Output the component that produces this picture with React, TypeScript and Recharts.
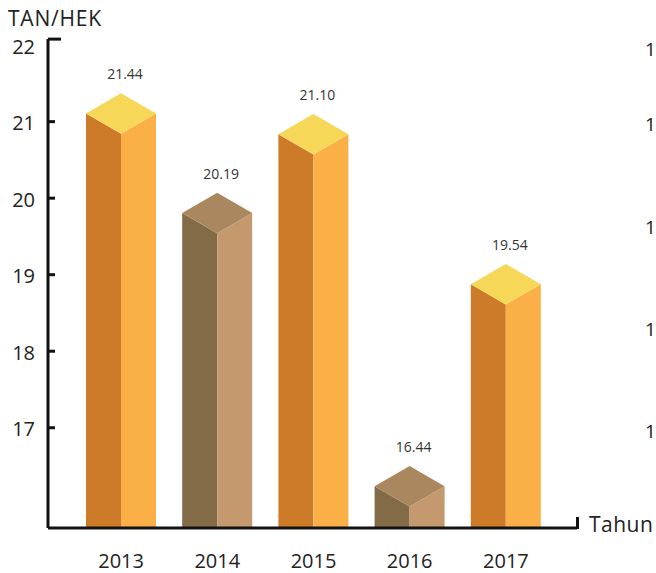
import { Bar, BarChart, LabelList, XAxis, YAxis } from 'recharts';

const years = ['2013', '2014', '2015', '2016', '2017'];
// value printed above each box
const yieldLabels = [21.44, 20.19, 21.1, 16.44, 19.54];
// height of each box as drawn in the picture (top corner of the lid)
const boxTops = [21.37, 20.07, 21.1, 16.5, 19.14];
const yTicks = [17, 18, 19, 20, 21, 22];
const rightMarks = [50, 125, 228, 330, 432];

const data = years.map((year, i) => ({
  year,
  top: boxTops[i],
  label: yieldLabels[i],
}));

const FONT = '"Open Sans", sans-serif';
const orange = { left: '#CD7A29', right: '#FAAF47', lid: '#F6D757' };
const brown = { left: '#846B48', right: '#C4996D', lid: '#AB8760' };

const Box3D = (props: any) => {
  const { x, y, width, height, payload } = props;
  const c = payload.year === '2014' || payload.year === '2016' ? brown : orange;
  const cx = x + width / 2;
  const d = (width / 2) * 0.577;
  const bottom = y + height;
  return (
    <g>
      <polygon
        points={`${x},${y + d} ${cx},${y + 2 * d} ${cx},${bottom} ${x},${bottom}`}
        fill={c.left}
      />
      <polygon
        points={`${cx},${y + 2 * d} ${x + width},${y + d} ${x + width},${bottom} ${cx},${bottom}`}
        fill={c.right}
      />
      <polygon
        points={`${cx},${y} ${x + width},${y + d} ${cx},${y + 2 * d} ${x},${y + d}`}
        fill={c.lid}
      />
    </g>
  );
};

const YTick = (props: any) => {
  const { x, y, payload } = props;
  const isTop = payload.value === 22;
  const ly = isTop ? y - 6 : y;
  return (
    <g>
      <line x1={x} x2={x + (isTop ? 13 : 7)} y1={ly} y2={ly} stroke="#111" strokeWidth={3} />
      <text
        x={x - 13}
        y={y + 1}
        textAnchor="end"
        dominantBaseline="central"
        fontSize={20}
        fontFamily={FONT}
        fill="#222"
      >
        {payload.value}
      </text>
    </g>
  );
};

const ValueLabel = (props: any) => {
  const { x, y, width, value } = props;
  return (
    <text
      x={x + width / 2 + 4}
      y={y - 14}
      textAnchor="middle"
      fontSize={14}
      fontFamily={FONT}
      fill="#333"
    >
      {Number(value).toFixed(2)}
    </text>
  );
};

export default function App() {
  return (
    <div
      style={{
        position: 'absolute',
        left: 0,
        top: 0,
        width: 656,
        height: 573,
        overflow: 'hidden',
        fontFamily: FONT,
        color: '#222',
      }}
    >
      <BarChart
        width={656}
        height={573}
        data={data}
        margin={{ top: 39, right: 79, bottom: 44, left: 0 }}
      >
        <XAxis
          dataKey="year"
          height={1}
          padding={{ left: 25, right: 23 }}
          axisLine={{ stroke: '#111', strokeWidth: 3 }}
          tickLine={false}
          tickSize={0}
          tickMargin={26}
          tick={{ fontSize: 20, fontFamily: FONT, fill: '#222' }}
        />
        <YAxis
          width={48}
          domain={[15.69, 22.08]}
          ticks={yTicks}
          allowDataOverflow
          axisLine={{ stroke: '#111', strokeWidth: 3 }}
          tickLine={false}
          tickSize={0}
          tickMargin={0}
          tick={<YTick />}
        />
        <Bar dataKey="top" barSize={70} shape={<Box3D />} isAnimationActive={false}>
          <LabelList dataKey="label" content={<ValueLabel />} />
        </Bar>
      </BarChart>
      <div
        style={{ position: 'absolute', left: 8, top: 4, fontSize: 21, letterSpacing: 0.8, whiteSpace: 'nowrap' }}
      >
        TAN/HEK
      </div>
      <div style={{ position: 'absolute', left: 576, top: 517, width: 3, height: 12, background: '#111' }} />
      <div
        style={{ position: 'absolute', left: 589, top: 510, fontSize: 21, letterSpacing: 0.5, whiteSpace: 'nowrap' }}
      >
        Tahun
      </div>
      {rightMarks.map((t) => (
        <div
          key={t}
          style={{ position: 'absolute', left: 645, top: t - 14, fontSize: 19, whiteSpace: 'nowrap' }}
        >
          1
        </div>
      ))}
    </div>
  );
}
